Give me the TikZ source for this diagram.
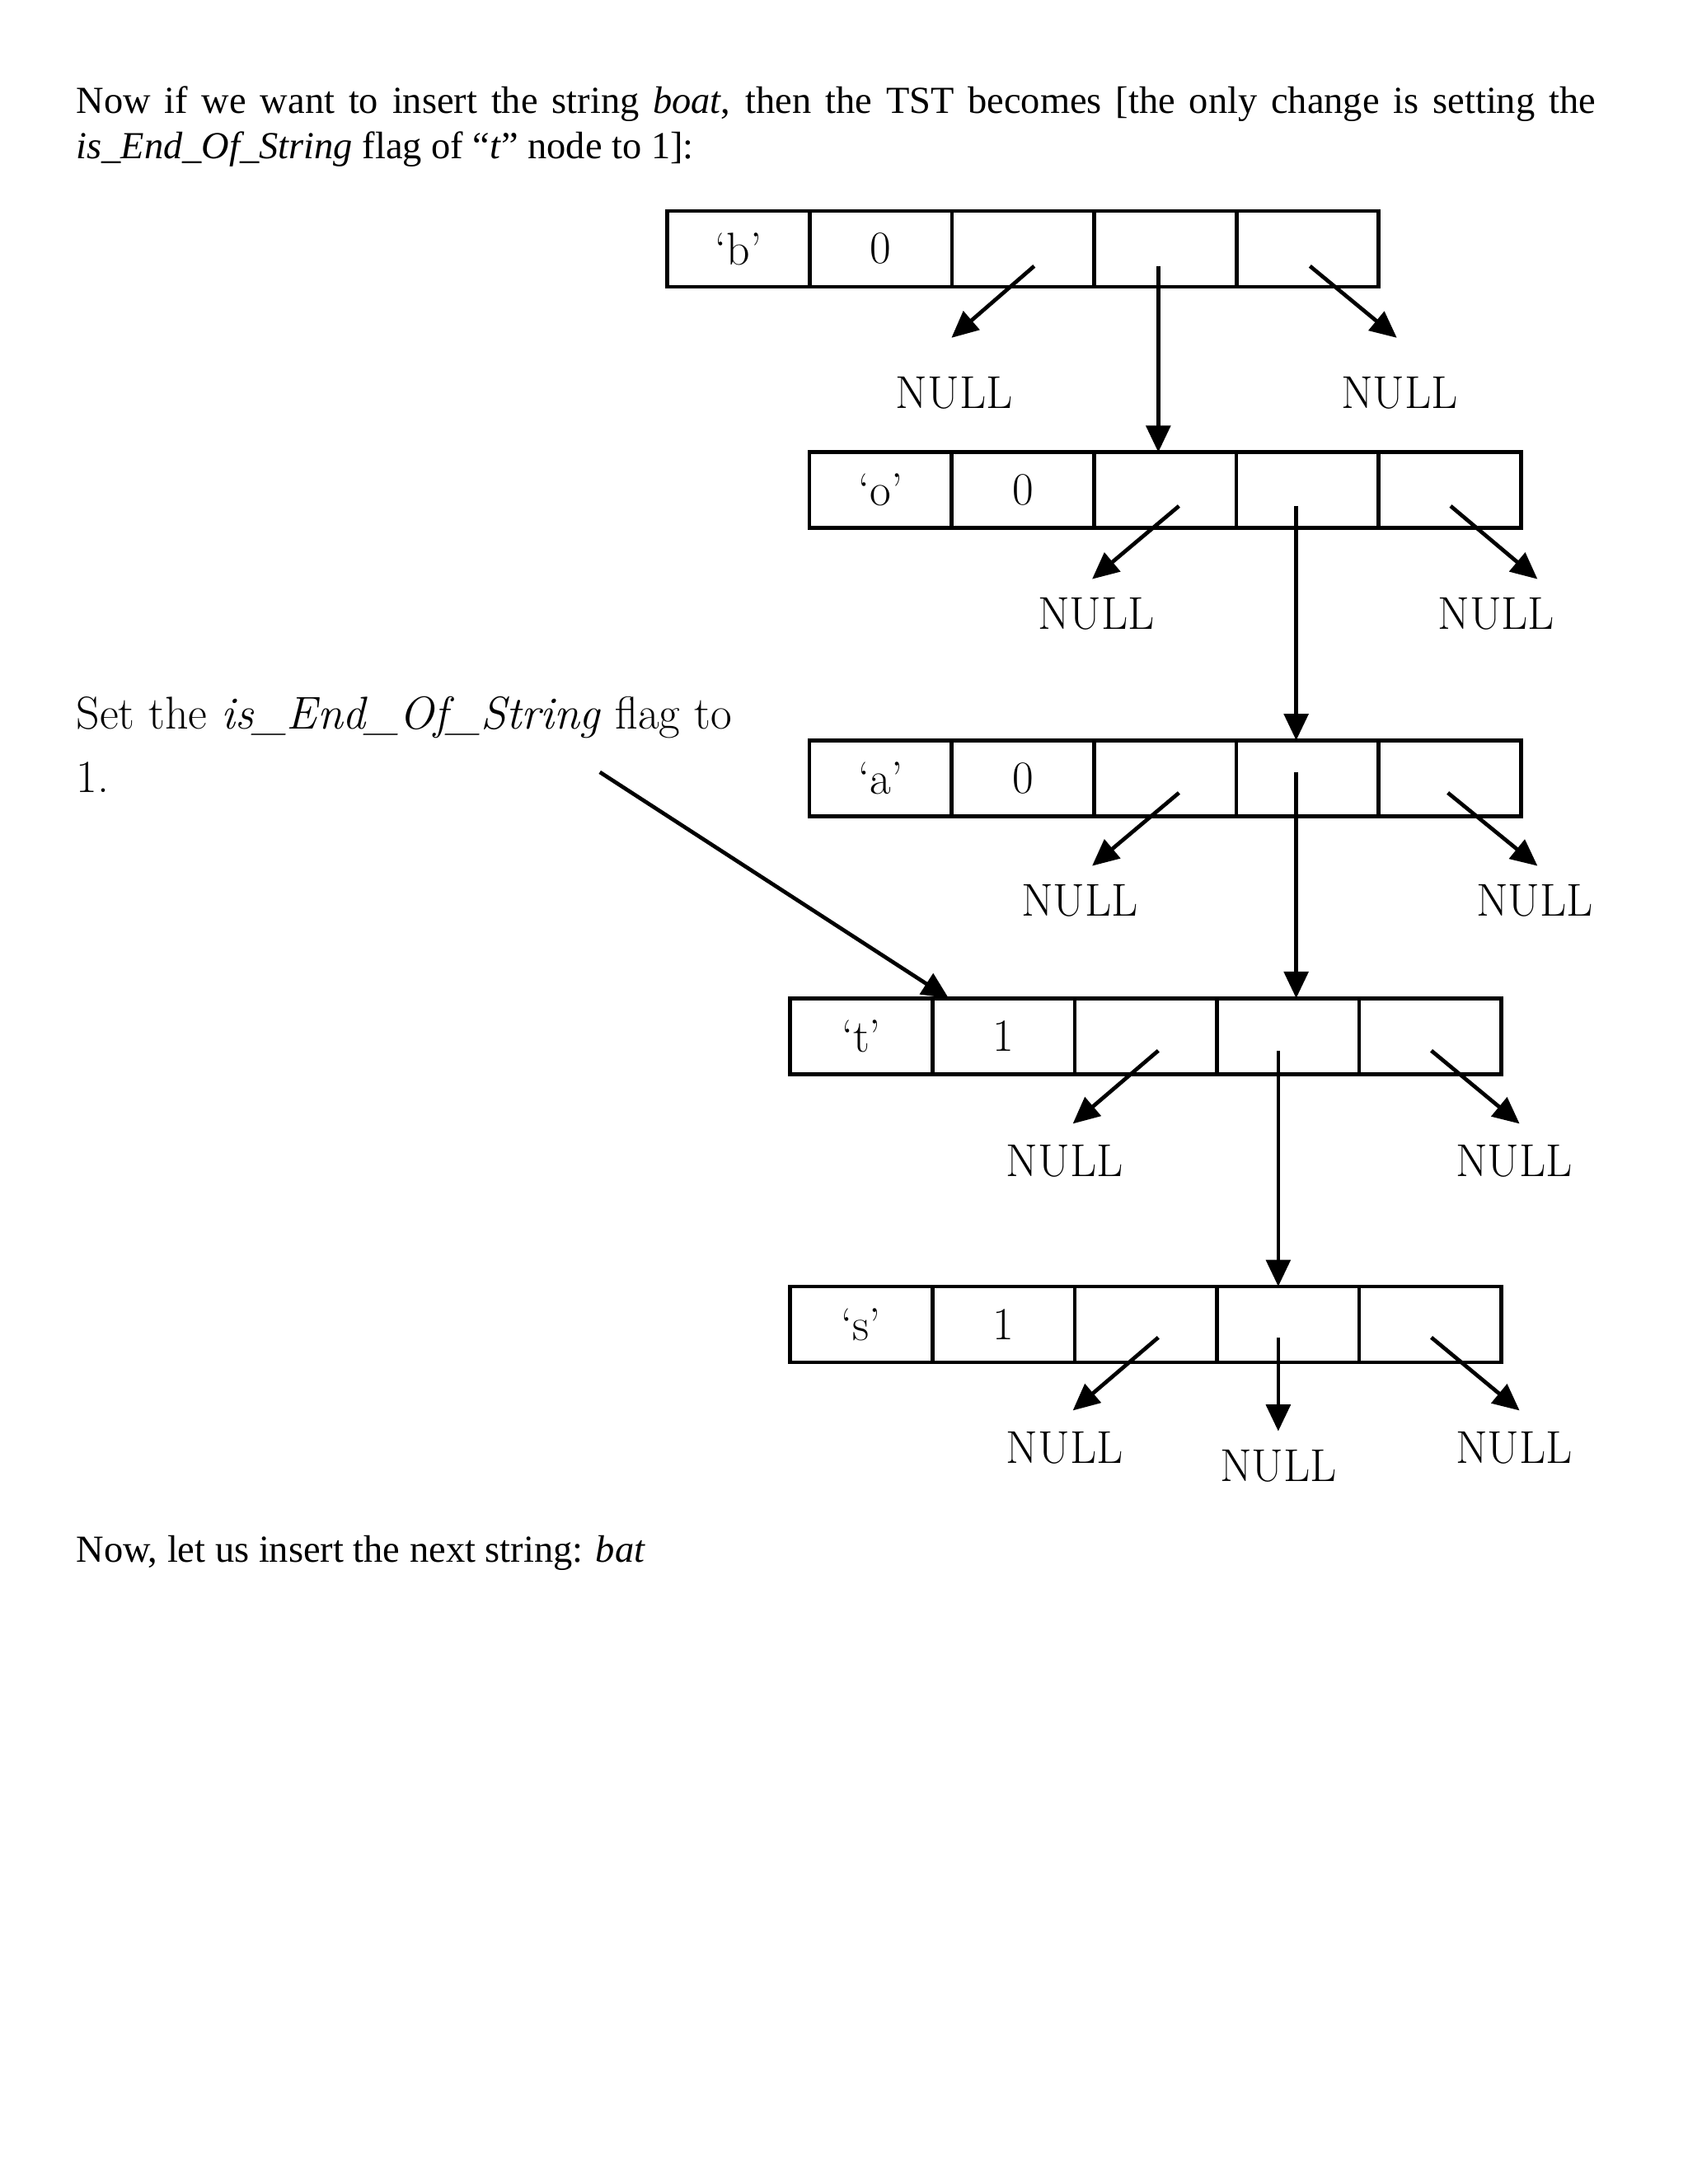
\documentclass[tikz,border=0pt]{standalone}
\usepackage{fontspec}
\newfontfamily\tnr{Liberation Serif}
\usetikzlibrary{arrows.meta}
\begin{document}
\begin{tikzpicture}[x=0.02cm,y=-0.02cm,
  cell/.style={draw,line width=1.6pt,outer sep=0pt,minimum width=2.064cm,minimum height=1.1cm,inner sep=0,anchor=north west,font=\fontsize{19}{22}\selectfont},
  ptr/.style={line width=1.6pt,-{Triangle[length=11pt,width=10pt]}},
  nul/.style={font=\fontsize{19}{22}\selectfont,inner sep=0},
  body/.style={font=\tnr\fontsize{15.8}{19}\selectfont,inner sep=0,anchor=base west}]
\useasboundingbox (0,0) rectangle (1224,1584);
\node[body,text width=22.04cm,align=justify,anchor=north west] (t1) at (55,62) {Now if we want to insert the string \textit{boat}, then the TST becomes [the only change is setting the \textit{is\_End\_Of\_String} flag of “\textit{t}” node to 1]:};
\node[body] (t2) at (55,1133) {Now, let us insert the next string: \textit{bat}};
\node[font=\fontsize{19}{26}\selectfont,anchor=north west,inner sep=0,align=left] (ann) at (55,505) {Set the \textit{is\_End\_Of\_String} flag to\\1.};
% rows
\foreach \n/\x/\y/\c/\f in {b/484/153/`b'/0, o/587/328/`o'/0, a/587/537/`a'/0, t/573/724/`t'/1, s/573/933/`s'/1}{
  \node[cell] (\n1) at (\x,\y) {\c};
  \node[cell] (\n2) at (\n1.north east) {\f};
  \node[cell] (\n3) at (\n2.north east) {};
  \node[cell] (\n4) at (\n3.north east) {};
  \node[cell] (\n5) at (\n4.north east) {};
}
% NULL labels
\node[nul] (nb1) at (692,285) {NULL}; \node[nul] (nb2) at (1015,285) {NULL};
\node[nul] (no1) at (795,445) {NULL}; \node[nul] (no2) at (1085,445) {NULL};
\node[nul] (na1) at (783,653) {NULL}; \node[nul] (na2) at (1113,653) {NULL};
\node[nul] (nt1) at (772,842) {NULL}; \node[nul] (nt2) at (1098,842) {NULL};
\node[nul] (ns1) at (772,1050) {NULL}; \node[nul] (ns3) at (927,1063) {NULL}; \node[nul] (ns2) at (1098,1050) {NULL};
% pointer coordinates
\coordinate (bl) at (750,193); \coordinate (blE) at (690,245);
\coordinate (bm) at (840,193);
\coordinate (br) at (950,193); \coordinate (brE) at (1013,245);
\coordinate (ol) at (855,367); \coordinate (olE) at (792,420);
\coordinate (om) at (940,367);
\coordinate (or) at (1052,367); \coordinate (orE) at (1115,420);
\coordinate (al) at (855,575); \coordinate (alE) at (792,628);
\coordinate (am) at (940,560);
\coordinate (ar) at (1050,575); \coordinate (arE) at (1115,628);
\coordinate (tl) at (840,762); \coordinate (tlE) at (778,815);
\coordinate (tm) at (927,762);
\coordinate (tr) at (1038,762); \coordinate (trE) at (1102,815);
\coordinate (sl) at (840,970); \coordinate (slE) at (778,1023);
\coordinate (sm) at (927,970); \coordinate (smE) at (927,1038);
\coordinate (sr) at (1038,970); \coordinate (srE) at (1102,1023);
\coordinate (annS) at (435,560); \coordinate (annE) at (688,724);
\draw[ptr] (bl) -- (blE); \draw[ptr] (br) -- (brE);
\draw[ptr] (bm) -- (bm |- o4.north);
\draw[ptr] (ol) -- (olE); \draw[ptr] (or) -- (orE);
\draw[ptr] (om) -- (om |- a4.north);
\draw[ptr] (al) -- (alE); \draw[ptr] (ar) -- (arE);
\draw[ptr] (am) -- (am |- t4.north);
\draw[ptr] (tl) -- (tlE); \draw[ptr] (tr) -- (trE);
\draw[ptr] (tm) -- (tm |- s4.north);
\draw[ptr] (sl) -- (slE); \draw[ptr] (sr) -- (srE); \draw[ptr] (sm) -- (smE);
\draw[ptr] (annS) -- (annE);
\end{tikzpicture}
\end{document}
